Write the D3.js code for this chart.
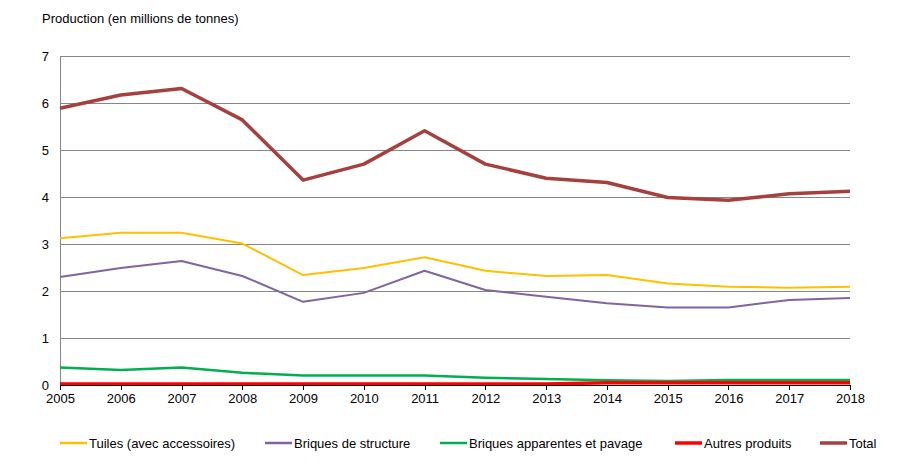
<!DOCTYPE html>
<html><head><meta charset="utf-8">
<script src="https://cdn.jsdelivr.net/npm/d3@7"></script>
<style>body{margin:0;background:#fff;} svg{display:block;font-family:"Liberation Sans",Arial,sans-serif;}</style>
</head><body>
<svg id="c" width="904" height="468"></svg>
<script>
const years = [2005,2006,2007,2008,2009,2010,2011,2012,2013,2014,2015,2016,2017,2018];
const tuiles = [3.12,3.24,3.24,3.01,2.34,2.49,2.72,2.43,2.32,2.34,2.16,2.09,2.07,2.09];
const briquesStructure = [2.30,2.49,2.64,2.32,1.77,1.96,2.43,2.02,1.88,1.74,1.65,1.65,1.81,1.85];
const briquesApparentes = [0.37,0.32,0.37,0.26,0.20,0.20,0.20,0.155,0.13,0.10,0.085,0.105,0.105,0.105];
const autres = [0.02,0.02,0.02,0.02,0.02,0.02,0.02,0.02,0.02,0.05,0.05,0.05,0.05,0.05];
const total = [5.89,6.17,6.31,5.64,4.36,4.70,5.41,4.70,4.40,4.31,3.99,3.93,4.07,4.12];
const yTicks = [0,1,2,3,4,5,6,7];
const title = "Production (en millions de tonnes)";

const series = [
  {name:"Tuiles (avec accessoires)", values:tuiles, color:"#FFC000", w:2},
  {name:"Briques de structure", values:briquesStructure, color:"#8064A2", w:2},
  {name:"Briques apparentes et pavage", values:briquesApparentes, color:"#00B050", w:2.5},
  {name:"Autres produits", values:autres, color:"#FF0000", w:3.5},
  {name:"Total", values:total, color:"#A5403E", w:3.5}
];

const svg = d3.select("#c");
const x = d3.scalePoint().domain(years).range([60,850]);
const y = d3.scaleLinear().domain([0,7]).range([385,56]);

svg.append("text").attr("x",42).attr("y",23).attr("font-size",13).attr("fill","#000").text(title);

// gridlines
svg.append("g").selectAll("line").data(yTicks.filter(d=>d>0)).join("line")
  .attr("x1",60).attr("x2",850).attr("y1",d=>y(d)).attr("y2",d=>y(d))
  .attr("stroke","#868686").attr("stroke-width",1).attr("shape-rendering","crispEdges");

// y axis
const ya = svg.append("g").attr("transform","translate(60,0)")
  .call(d3.axisLeft(y).tickValues(yTicks).tickSize(0).tickPadding(11).tickFormat(d3.format("d")));
ya.select(".domain").attr("stroke","#868686").attr("shape-rendering","crispEdges");
ya.selectAll("text").attr("font-size",13).attr("font-family","Liberation Sans, Arial, sans-serif").attr("fill","#000");

// lines
const line = d3.line().x((d,i)=>x(years[i])).y(d=>y(d));
series.forEach(s=>{
  svg.append("path").datum(s.values).attr("d",line).attr("fill","none")
    .attr("stroke",s.color).attr("stroke-width",s.w).attr("stroke-linejoin","round");
});

// x axis
const xa = svg.append("g").attr("transform","translate(0,385)")
  .call(d3.axisBottom(x).tickSize(5).tickSizeOuter(0).tickPadding(4).tickFormat(d3.format("d")));
xa.select(".domain").attr("stroke","#000").attr("shape-rendering","crispEdges");
xa.selectAll(".tick line").attr("stroke","#000").attr("shape-rendering","crispEdges");
xa.selectAll("text").attr("font-size",13).attr("font-family","Liberation Sans, Arial, sans-serif").attr("fill","#000");

// legend
const legX = [60,265,440,675,820];
const lg = svg.append("g").selectAll("g").data(series).join("g")
  .attr("transform",(d,i)=>`translate(${legX[i]},443)`);
lg.append("line").attr("x1",0).attr("x2",27).attr("y1",0).attr("y2",0)
  .attr("stroke",d=>d.color).attr("stroke-width",d=>Math.max(2.5,d.w));
lg.append("text").attr("x",29).attr("y",4.5).attr("font-size",13).attr("fill","#000").text(d=>d.name);
</script>
</body></html>
